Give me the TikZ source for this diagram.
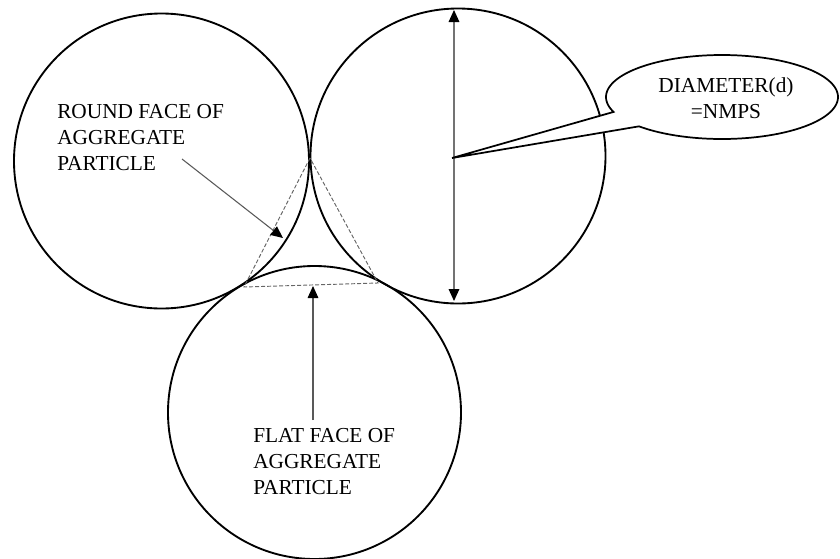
\documentclass[tikz,border=0pt]{standalone}
\usepackage{fontspec}
\setmainfont{Liberation Serif}
\usetikzlibrary{arrows.meta}
\begin{document}
\begin{tikzpicture}[x=0.75pt,y=-0.75pt,
  particle/.style={draw=black,line width=1.4pt},
  facet/.style={draw=black!60,line width=0.7pt,dash pattern=on 3pt off 1.5pt},
  tip/.style={},
  pointer/.style={draw=black!65,line width=0.8pt,-{Triangle[length=9pt,width=8pt,color=black]}},
  dimline/.style={draw=black!55,line width=0.9pt,{Triangle[length=9pt,width=8pt,color=black]}-{Triangle[length=9pt,width=8pt,color=black]}},
  lbl/.style={font=\fontsize{16}{19.5}\selectfont,inner sep=0pt,align=left,anchor=base west},
  callout/.style={draw=black,fill=white,line width=1.3pt,line join=miter}]
\useasboundingbox (0,0) rectangle (840,558);
% particles
\coordinate (cL) at (161.5,161);
\coordinate (cR) at (458,156);
\coordinate (cB) at (314.5,412.5);
\draw[particle] (cL) circle[radius=147.5];
\draw[particle] (cR) circle[radius=147.5];
\draw[particle] (cB) circle[radius=146.5];
% dashed facets
\coordinate (tT) at (310,158);
\coordinate (tL) at (244,287);
\coordinate (tR) at (378,283);
\draw[facet] (tT) -- (tL) -- (tR) -- cycle;
% diameter
\coordinate (dTop) at (454,10);
\coordinate (dBot) at (454,301);
\draw[dimline] (dTop) -- (dBot);
% callout
\draw[callout] (452,158) -- plot[domain=159.2:495.7,samples=150] ({722+116*cos(\x)},{97+42*sin(\x)}) -- cycle;
\node[lbl,align=center,anchor=base] (dtext) at (726,118) {DIAMETER(d)\\=NMPS};
% labels
\node[lbl] (round) at (57,170) {ROUND FACE OF\\AGGREGATE\\PARTICLE};
\node[lbl] (flat) at (253,494) {FLAT FACE OF\\AGGREGATE\\PARTICLE};
\coordinate (rStart) at (182,159);
\coordinate (rTip) at (283,238);
\draw[pointer] (rStart) -- (rTip);
\coordinate (fStart) at (313,420);
\coordinate (fTip) at (313,286);
\draw[pointer] (fStart) -- (fTip);
\end{tikzpicture}
\end{document}
